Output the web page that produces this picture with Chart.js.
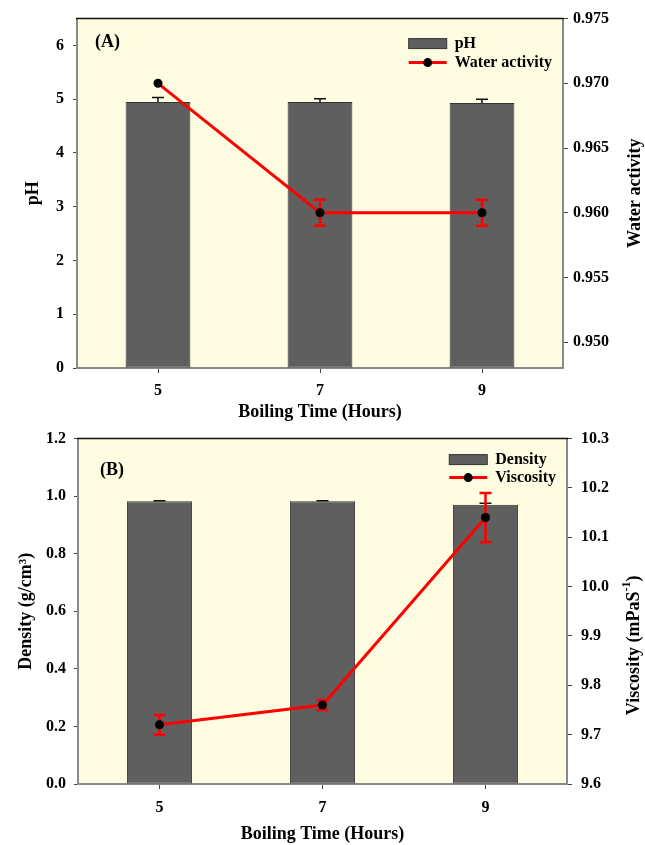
<!DOCTYPE html>
<html>
<head>
<meta charset="utf-8">
<script src="https://cdn.jsdelivr.net/npm/chart.js@4/dist/chart.umd.min.js"></script>
<style>
html, body { margin: 0; padding: 0; background: #fff; }
#wrapA { position: absolute; left: 0; top: 0; width: 645px; height: 423px; }
#wrapB { position: absolute; left: 0; top: 420px; width: 645px; height: 425px; }
</style>
</head>
<body>
<div id="wrapA"><canvas id="chartA"></canvas></div>
<div id="wrapB"><canvas id="chartB"></canvas></div>
<script>
// boiling time categories
const hours = ['5', '7', '9'];

// panel A
const phValues = [4.95, 4.95, 4.93];
const phErrors = [0.08, 0.06, 0.07];
const waterActivity = [0.970, 0.960, 0.960];
const waterActivityErrors = [0, 0.001, 0.001];
const phTicks = [0, 1, 2, 3, 4, 5, 6];
const waTicks = [0.950, 0.955, 0.960, 0.965, 0.970, 0.975];

// panel B
const density = [0.982, 0.982, 0.970];
const densityErrors = [0.002, 0.002, 0.005];
const viscosity = [9.72, 9.76, 10.14];
const viscosityErrors = [0.02, 0.01, 0.05];
const densityTicks = [0, 0.2, 0.4, 0.6, 0.8, 1.0, 1.2];
const viscosityTicks = [9.6, 9.7, 9.8, 9.9, 10.0, 10.1, 10.2, 10.3];

const FONT = '"Liberation Serif", "Times New Roman", serif';
const tickFont = { family: FONT, size: 16, weight: 'bold' };
const titleFont = { family: FONT, size: 18, weight: 'bold' };

function drawErrors(chart, index) {
  const ds = chart.data.datasets[index];
  if (!ds.errors) return;
  const meta = chart.getDatasetMeta(index);
  const scale = chart.scales[meta.yAxisID];
  const ctx = chart.ctx;
  const cap = 6;
  ctx.save();
  ctx.strokeStyle = ds.errorColor;
  ctx.lineWidth = ds.errorWidth;
  meta.data.forEach((el, i) => {
    const v = ds.data[i], e = ds.errors[i];
    if (!e) return;
    const yTop = scale.getPixelForValue(v + e);
    const yBot = scale.getPixelForValue(ds.errorBoth ? v - e : v);
    ctx.beginPath();
    ctx.moveTo(el.x, yTop); ctx.lineTo(el.x, yBot);
    ctx.moveTo(el.x - cap, yTop); ctx.lineTo(el.x + cap, yTop);
    if (ds.errorBoth) { ctx.moveTo(el.x - cap, yBot); ctx.lineTo(el.x + cap, yBot); }
    ctx.stroke();
  });
  ctx.restore();
}

const panelPlugin = {
  id: 'panel',
  beforeDraw(chart) {
    const { ctx, chartArea: a } = chart;
    ctx.save();
    ctx.fillStyle = '#FFFDE1';
    ctx.fillRect(a.left, a.top, a.right - a.left, a.bottom - a.top);
    ctx.restore();
  },
  afterDatasetDraw(chart, args) {
    if (args.meta.type === 'bar') drawErrors(chart, args.index);
  },
  beforeDatasetDraw(chart, args) {
    if (args.meta.type === 'line') drawErrors(chart, args.index);
  },
  afterDraw(chart, args, o) {
    const { ctx, chartArea: a } = chart;
    ctx.save();
    // top frame
    ctx.strokeStyle = '#111';
    ctx.lineWidth = 1.5;
    ctx.beginPath();
    ctx.moveTo(a.left - 1, a.top); ctx.lineTo(a.right + 1, a.top);
    ctx.stroke();

    // panel letter
    ctx.fillStyle = '#000';
    ctx.font = 'bold 18px ' + FONT;
    ctx.textBaseline = 'middle';
    ctx.textAlign = 'left';
    ctx.fillText(o.letter, a.left + o.letterX, a.top + o.letterY);

    // legend
    ctx.font = 'bold 16px ' + FONT;
    const sets = chart.data.datasets;
    const maxW = Math.max(...sets.map(d => ctx.measureText(d.label).width));
    const tx = a.right - 11 - maxW;
    const sx0 = tx - 46, sx1 = tx - 8;
    sets.forEach((d, i) => {
      const y = a.top + o.legendTop + i * o.legendGap;
      if (d.type === 'line') {
        ctx.strokeStyle = '#FF0000';
        ctx.lineWidth = 3;
        ctx.beginPath(); ctx.moveTo(sx0, y); ctx.lineTo(sx1, y); ctx.stroke();
        ctx.fillStyle = '#000';
        ctx.beginPath(); ctx.arc((sx0 + sx1) / 2, y, 4.5, 0, Math.PI * 2); ctx.fill();
      } else {
        ctx.fillStyle = '#5F5F5F';
        ctx.strokeStyle = '#333';
        ctx.lineWidth = 1;
        ctx.fillRect(sx0, y - 5, sx1 - sx0, 10);
        ctx.strokeRect(sx0, y - 5, sx1 - sx0, 10);
      }
      ctx.fillStyle = '#000';
      ctx.fillText(d.label, tx, y);
    });

    // right axis title, reading bottom to top
    const parts = o.rightTitle;
    const widths = parts.map(p => {
      ctx.font = 'bold ' + (p.sup ? 12 : 18) + 'px ' + FONT;
      return ctx.measureText(p.text).width;
    });
    const total = widths.reduce((s, w) => s + w, 0);
    ctx.translate(o.rightTitleX, (a.top + a.bottom) / 2 + o.rightTitleShift);
    ctx.rotate(-Math.PI / 2);
    let x = -total / 2;
    parts.forEach((p, i) => {
      ctx.font = 'bold ' + (p.sup ? 12 : 18) + 'px ' + FONT;
      ctx.fillText(p.text, x, p.sup ? -7 : 0);
      x += widths[i];
    });
    ctx.restore();
  }
};

function buildChart(id, s) {
  return new Chart(document.getElementById(id), {
    type: 'bar',
    data: {
      labels: hours,
      datasets: [{
        label: s.barLabel,
        data: s.barData,
        errors: s.barErrors,
        errorColor: '#111',
        errorWidth: 1.5,
        errorBoth: false,
        backgroundColor: '#5F5F5F',
        borderColor: '#333',
        borderWidth: 1,
        borderSkipped: false,
        categoryPercentage: 0.4,
        barPercentage: 1,
        yAxisID: 'y',
        order: 1
      }, {
        type: 'line',
        label: s.lineLabel,
        data: s.lineData,
        errors: s.lineErrors,
        errorColor: '#FF0000',
        errorWidth: 2.5,
        errorBoth: true,
        borderColor: '#FF0000',
        borderWidth: 3,
        pointRadius: 4.5,
        pointBackgroundColor: '#000',
        pointBorderColor: '#000',
        pointBorderWidth: 0,
        tension: 0,
        yAxisID: 'y1',
        order: 0
      }]
    },
    options: {
      responsive: true,
      maintainAspectRatio: false,
      animation: false,
      layout: { padding: { top: s.padTop, right: 0, bottom: 0, left: 0 } },
      plugins: {
        legend: { display: false },
        tooltip: { enabled: false },
        panel: s.panel
      },
      scales: {
        x: {
          offset: true,
          afterFit: sc => { sc.height = s.xHeight; },
          grid: { drawOnChartArea: false, offset: false, tickLength: 5, color: '#444' },
          border: { color: '#8a8a8a', width: 2 },
          ticks: { color: '#000', font: tickFont, padding: s.xTickPad, maxRotation: 0 },
          title: { display: true, text: 'Boiling Time (Hours)', color: '#000', font: titleFont,
                   padding: { top: 0, bottom: 0 } }
        },
        y: {
          position: 'left',
          min: s.yMin, max: s.yMax,
          afterBuildTicks: sc => { sc.ticks = s.yTicks.map(v => ({ value: v })); },
          afterFit: sc => { sc.width = s.leftWidth; },
          grid: { drawOnChartArea: false, tickLength: 4, color: '#444' },
          border: { color: '#8a8a8a', width: 2 },
          ticks: { color: '#000', font: tickFont, padding: s.yTickPad,
                   callback: v => v.toFixed(s.yDigits) },
          title: { display: true, text: s.yTitle, color: '#000', font: titleFont,
                   padding: { top: s.yTitlePad, bottom: 0 } }
        },
        y1: {
          position: 'right',
          min: s.y1Min, max: s.y1Max,
          afterBuildTicks: sc => { sc.ticks = s.y1Ticks.map(v => ({ value: v })); },
          afterFit: sc => { sc.width = s.rightWidth; },
          grid: { drawOnChartArea: false, tickLength: 5, color: '#444' },
          border: { color: '#8a8a8a', width: 2 },
          ticks: { color: '#000', font: tickFont, padding: s.y1TickPad,
                   callback: v => v.toFixed(s.y1Digits) }
        }
      }
    },
    plugins: [panelPlugin]
  });
}

buildChart('chartA', {
  barLabel: 'pH', barData: phValues, barErrors: phErrors,
  lineLabel: 'Water activity', lineData: waterActivity, lineErrors: waterActivityErrors,
  yMin: 0, yMax: 6.5, yTicks: phTicks, yDigits: 0, yTitle: 'pH',
  y1Min: 0.948, y1Max: 0.975, y1Ticks: waTicks, y1Digits: 3,
  padTop: 7, leftWidth: 77, rightWidth: 82, xHeight: 55,
  xTickPad: 8, yTickPad: 9, yTitlePad: 23, y1TickPad: 5,
  panel: {
    letter: '(A)', letterX: 18, letterY: 24,
    legendTop: 25, legendGap: 19,
    rightTitle: [{ text: 'Water activity' }],
    rightTitleX: 635, rightTitleShift: 0
  }
});

buildChart('chartB', {
  barLabel: 'Density', barData: density, barErrors: densityErrors,
  lineLabel: 'Viscosity', lineData: viscosity, lineErrors: viscosityErrors,
  yMin: 0, yMax: 1.2, yTicks: densityTicks, yDigits: 1, yTitle: 'Density (g/cm³)',
  y1Min: 9.6, y1Max: 10.3, y1Ticks: viscosityTicks, y1Digits: 1,
  padTop: 9, leftWidth: 78, rightWidth: 78, xHeight: 61,
  xTickPad: 9, yTickPad: 8, yTitlePad: 16, y1TickPad: 9,
  panel: {
    letter: '(B)', letterX: 22, letterY: 32,
    legendTop: 21, legendGap: 18,
    rightTitle: [{ text: 'Viscosity (mPaS' }, { text: '-1', sup: true }, { text: ')' }],
    rightTitleX: 634, rightTitleShift: 34
  }
});
</script>
</body>
</html>
